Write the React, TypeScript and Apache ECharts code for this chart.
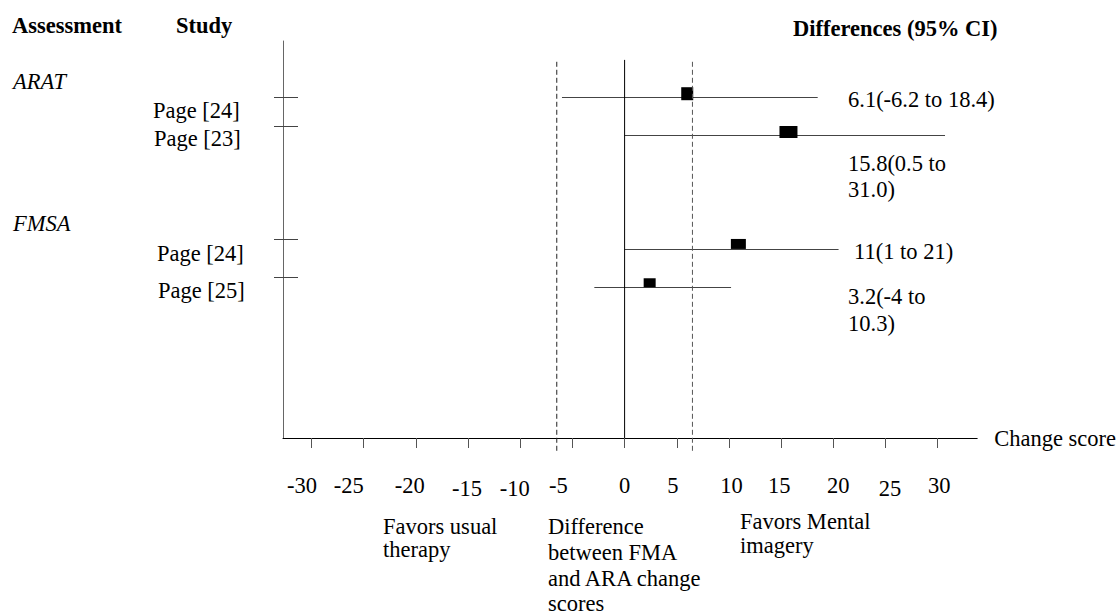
import React, { useEffect, useRef } from "react";
import * as echarts from "echarts";

// ---- data ----
const rowLabels = ["Page [24]", "Page [23]", "Page [24]", "Page [25]"];
const rowPositions = [1, 2, 5, 6];
const estimates = [6.0, 15.7, 10.9, 2.4];
const lowerCI = [-6.0, 0, 0, -2.9];
const upperCI = [18.5, 30.7, 20.5, 10.2];
const ciTexts = [["6.1(-6.2 to 18.4)"], ["15.8(0.5 to", "31.0)"], ["11(1 to 21)"], ["3.2(-4 to", "10.3)"]];
const assessments = ["ARAT", "FMSA"];
const xTicks = [-30, -25, -20, -15, -10, -5, 0, 5, 10, 15, 20, 25, 30];
const xTickLabels = ["-30", "-25", "-20", "-15", "-10", "-5", "0", "5", "10", "15", "20", "25", "30"];
const zeroLine = [0];
const diffBounds = [-6.5, 6.5];
const groupTicks = [1, 1.75, 4.75, 5.75];
const bottomNotes = [["Favors usual", "therapy"], ["Difference", "between FMA", "and ARA change", "scores"], ["Favors Mental", "imagery"]];

// ---- styles ----
const FONT = "'Liberation Serif', 'Times New Roman', serif";
const FS = 22.5;
const markerSizes = [[12, 13], [18, 12], [15, 10], [12, 9]];
const markerOffsets = [[0, -4], [0, -3.5], [0, -5], [0, -4]];
const labelShift = [[-9.5, 0], [-15, 0], [-6, 0], [-1, 3], [-5.5, 3], [-14, 0], [0, 0], [-4, 0], [2.5, 0], [-2, 0], [5, 0], [4.5, 3], [1.5, 0]];

function txt(s: string, x: number, y: number, extra: any = {}) {
  return {
    type: "text",
    x,
    y,
    silent: true,
    style: {
      text: s,
      fill: "#000",
      fontFamily: FONT,
      fontSize: FS,
      fontWeight: extra.fontWeight || "normal",
      fontStyle: extra.fontStyle || "normal",
      align: "left",
      verticalAlign: "middle",
      textAlign: "left",
      textVerticalAlign: "middle",
    },
  };
}

export default function App() {
  const ref = useRef<HTMLDivElement>(null);
  useEffect(() => {
    if (!ref.current) return;
    const chart = echarts.init(ref.current, null, { renderer: "svg" });

    const rich: any = {};
    labelShift.forEach(([dx, dy], i) => {
      rich["t" + i] = {
        fontFamily: FONT,
        fontSize: FS,
        color: "#000",
        padding: [dy, dx < 0 ? -2 * dx : 0, 0, dx > 0 ? 2 * dx : 0],
      };
    });

    const rowTextPos = [[153, 110], [154, 138], [157, 253], [158, 290]];
    const ciTextPos = [[[848, 99]], [[848, 163], [848, 189]], [[854, 251]], [[848, 296], [848, 323]]];
    const assessPos = [[13, 81], [13, 223]];
    const notePos = [
      [[383, 526], [383, 549]],
      [[548, 526], [548, 552], [548, 578], [548, 603]],
      [[740, 521], [740, 545]],
    ];

    const graphics: any[] = [
      txt("Assessment", 12, 25, { fontWeight: "bold" }),
      txt("Study", 176, 25, { fontWeight: "bold" }),
      txt("Differences (95% CI)", 793, 28, { fontWeight: "bold" }),
    ];
    assessments.forEach((a, i) => graphics.push(txt(a, assessPos[i][0], assessPos[i][1], { fontStyle: "italic" })));
    rowLabels.forEach((l, i) => graphics.push(txt(l, rowTextPos[i][0], rowTextPos[i][1])));
    ciTexts.forEach((lines, i) => lines.forEach((l, j) => graphics.push(txt(l, ciTextPos[i][j][0], ciTextPos[i][j][1]))));
    bottomNotes.forEach((lines, i) => lines.forEach((l, j) => graphics.push(txt(l, notePos[i][j][0], notePos[i][j][1]))));

    const yBase = {
      type: "value",
      inverse: true,
      min: -0.5,
      max: 10,
      splitLine: { show: false },
      axisLabel: { show: false },
    };

    chart.setOption({
      animation: false,
      grid: { left: 283, right: 141, top: 41, bottom: 177, containLabel: false },
      xAxis: {
        type: "value",
        min: -32.73,
        max: 33.78,
        name: "Change score",
        nameLocation: "end",
        nameGap: 17,
        nameTextStyle: { fontFamily: FONT, fontSize: FS, color: "#000", padding: [24, 0, 0, 0] },
        splitLine: { show: false },
        axisLine: { onZero: false, lineStyle: { color: "#000", width: 1 } },
        axisTick: { customValues: xTicks, length: 10, lineStyle: { color: "#555", width: 1 } },
        axisLabel: {
          customValues: xTicks,
          margin: 36,
          formatter: (v: number) => {
            const i = xTicks.indexOf(Math.round(v));
            return i < 0 ? "" : "{t" + i + "|" + xTickLabels[i] + "}";
          },
          rich,
        },
      },
      yAxis: [
        {
          ...yBase,
          axisLine: { show: true, onZero: false, lineStyle: { color: "#666", width: 1 } },
          axisTick: { show: true, customValues: groupTicks, length: 9, inside: false, lineStyle: { color: "#444" } },
        },
        {
          ...yBase,
          position: "left",
          axisLine: { show: false, onZero: false },
          axisTick: { show: true, customValues: groupTicks, length: 15, inside: true, lineStyle: { color: "#444" } },
        },
      ],
      series: [
        {
          type: "line",
          data: [[zeroLine[0], 0], [zeroLine[0], 10]],
          symbol: "none",
          lineStyle: { color: "#000", width: 1 },
          silent: true,
        },
        ...diffBounds.map((b, i) => ({
          type: "line",
          data: [[b, 0.05], [b, 10.37]],
          symbol: "none",
          clip: false,
          lineStyle: { color: i === 0 ? "#222" : "#555", width: 1, type: [5, 3] },
          silent: true,
        })),
        {
          type: "lines",
          coordinateSystem: "cartesian2d",
          data: rowPositions.map((r, i) => ({ coords: [[lowerCI[i], r], [upperCI[i], r]] })),
          lineStyle: { color: "#444", width: 1, opacity: 1 },
          silent: true,
        },
        {
          type: "scatter",
          symbol: "rect",
          data: rowPositions.map((r, i) => ({
            value: [estimates[i], r],
            symbolSize: markerSizes[i],
            symbolOffset: markerOffsets[i],
          })),
          itemStyle: { color: "#000", opacity: 1 },
          silent: true,
        },
      ],
      graphic: graphics,
    });
    return () => chart.dispose();
  }, []);
  return <div ref={ref} style={{ position: "fixed", left: 0, top: 0, width: 1119, height: 615, background: "#fff" }} />;
}
